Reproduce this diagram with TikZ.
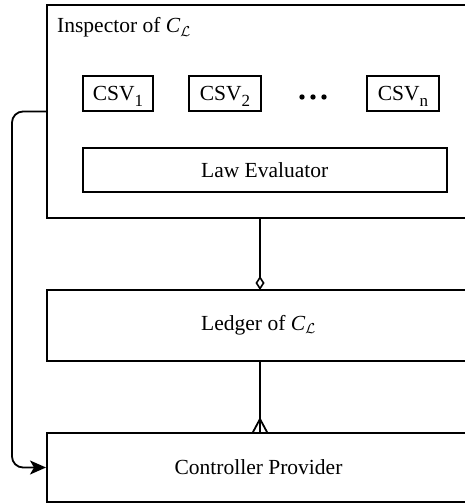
\documentclass[tikz,border=0pt]{standalone}
\usepackage{fontspec}
\setmainfont{Liberation Serif}
\usetikzlibrary{arrows.meta,calc}
\newcommand{\mysub}[1]{\smash{\raisebox{-6.5pt}{\fontsize{17}{17}\selectfont #1}}}
\begin{document}
\begin{tikzpicture}[x=1pt,y=1pt,
  font=\fontsize{21.5}{26}\selectfont,
  bigbox/.style={draw,line width=2pt,inner sep=0pt},
  smallbox/.style={draw,line width=1.6pt,inner sep=0pt},
  conn/.style={line width=1.8pt}]
\useasboundingbox (0,0) rectangle (465,504);
% big boxes
\node[bigbox,minimum width=423,minimum height=213] (insp) at (258.5,392.5) {};
\node[anchor=base west,inner sep=0pt] (insptitle) at (57,471) {Inspector of \textit{C}$_{\mathcal{L}}$};
\node[bigbox,minimum width=423,minimum height=71] (ledger) at (258.5,178.5) {Ledger of \textit{C}$_{\mathcal{L}}$};
\node[bigbox,minimum width=423,minimum height=69] (ctrl) at (258.5,36.5) {Controller Provider};
% inner boxes
\node[smallbox,minimum width=70,minimum height=35] (csv1) at (118,410.5) {CSV\mysub{1}};
\node[smallbox,minimum width=72,minimum height=35] (csv2) at (225,410.5) {CSV\mysub{2}};
\node[smallbox,minimum width=72,minimum height=35] (csvn) at (403,410.5) {CSV\mysub{n}};
\node[smallbox,minimum width=364,minimum height=44] (law) at (264.7,334) {Law Evaluator};
% dots
\foreach \dx in {302,313,324} \fill (\dx,407) circle (2.7);
% connectors
\coordinate (c1a) at (260,286);
\coordinate (c1b) at (260,214);
\draw[conn,-{Diamond[open,length=14pt,width=9pt,line width=1.6pt]}] (c1a) -- (c1b);
\coordinate (c2a) at (260,143);
\coordinate (c2b) at (260,71);
\draw[conn] (c2a) -- (c2b);
\draw[conn,line join=miter] ($(c2b)+(-7.5,0)$) -- ($(c2b)+(0,14)$) -- ($(c2b)+(7.5,0)$);
\draw[conn,rounded corners=11pt,-{Stealth[length=16pt,width=14pt,inset=4pt]}]
  (insp.west) -- (12,392.5) -- (12,36.5) -- (ctrl.west);
\end{tikzpicture}
\end{document}
